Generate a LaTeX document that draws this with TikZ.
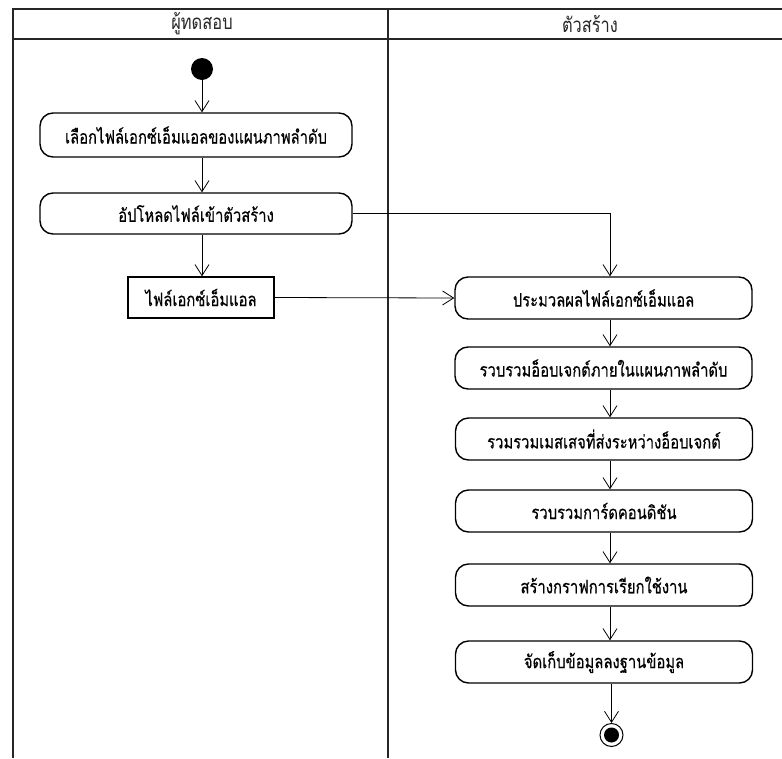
\documentclass[tikz,border=0pt]{standalone}
\usepackage{fontspec}
\usetikzlibrary{arrows.meta}
\newfontfamily\thaifont[Script=Thai,FakeStretch=0.8,FakeBold=0.4]{Loma}
\newfontfamily\thaihead[Script=Thai,FakeStretch=0.8]{Loma}
\begin{document}
\begin{tikzpicture}[x=1pt,y=-1pt,
  lane/.style={line width=2pt,draw=black!85},
  action/.style={draw,line width=1.4pt,rounded corners=13pt,minimum height=42pt,
    inner sep=0pt,font=\thaifont\fontsize{18.5}{21}\selectfont},
  objbox/.style={draw,line width=1.4pt,minimum height=41pt,minimum width=146pt,
    inner sep=0pt,font=\thaifont\fontsize{18.5}{21}\selectfont},
  head/.style={font=\thaihead\fontsize{20.5}{23}\selectfont,text=black!85},
  flow/.style={line width=0.8pt,-{Straight Barb[length=11pt,width=14pt,line width=0.8pt]}}]
\useasboundingbox (0,0) rectangle (782,758);

% swimlane frame
\draw[lane] (13,758) -- (13,9) -- (782,9);
\draw[lane] (13,39) -- (782,39);
\draw[lane] (388,9) -- (388,758);
\node[head] (h1) at (202,24) {ผู้ทดสอบ};
\node[head] (h2) at (590,24) {ตัวสร้าง};

% left lane
\node[circle,fill=black,minimum size=22pt,inner sep=0pt] (init) at (202,69) {};
\node[action,minimum width=312pt,minimum height=44pt] (b1) at (196,135) {เลือกไฟล์เอกซ์เอ็มแอลของแผนภาพลำดับ};
\node[action,minimum width=312pt,minimum height=41pt] (b2) at (196,213.5) {อัปโหลดไฟล์เข้าตัวสร้าง};
\node[objbox] (obj) at (201,297.5) {ไฟล์เอกซ์เอ็มแอล};

% right lane
\coordinate (ax) at (610,0);
\node[action,minimum width=297pt] (p1) at (603.5,298) {ประมวลผลไฟล์เอกซ์เอ็มแอล};
\node[action,minimum width=297pt] (p2) at (603.5,368) {รวบรวมอ็อบเจกต์ภายในแผนภาพลำดับ};
\node[action,minimum width=297pt] (p3) at (604,439) {รวมรวมเมสเสจที่ส่งระหว่างอ็อบเจกต์};
\node[action,minimum width=297pt] (p4) at (604,511) {รวบรวมการ์ดคอนดิชัน};
\node[action,minimum width=297pt] (p5) at (604,585) {สร้างกราฟการเรียกใช้งาน};
\node[action,minimum width=297pt] (p6) at (604,662) {จัดเก็บข้อมูลลงฐานข้อมูล};
\node[circle,draw,line width=1pt,minimum size=23pt,inner sep=0pt] (fin) at (611.5,735) {};
\node[circle,fill=black,minimum size=15pt,inner sep=0pt] (finc) at (fin) {};

% connectors
\draw[flow] (init) -- (init |- b1.north);
\draw[flow] (init |- b1.south) -- (init |- b2.north);
\draw[flow] (init |- b2.south) -- (init |- obj.north);
\draw[flow] (b2.east) -- (b2.east -| ax) -- (p1.north -| ax);
\draw[flow] (obj.east) -- (p1.west);
\draw[flow] (p1.south -| ax) -- (p2.north -| ax);
\draw[flow] (p2.south -| ax) -- (p3.north -| ax);
\draw[flow] (p3.south -| ax) -- (p4.north -| ax);
\draw[flow] (p4.south -| ax) -- (p5.north -| ax);
\draw[flow] (p5.south -| ax) -- (p6.north -| ax);
\draw[flow] (p6.south -| fin) -- (fin.north);
\end{tikzpicture}
\end{document}
